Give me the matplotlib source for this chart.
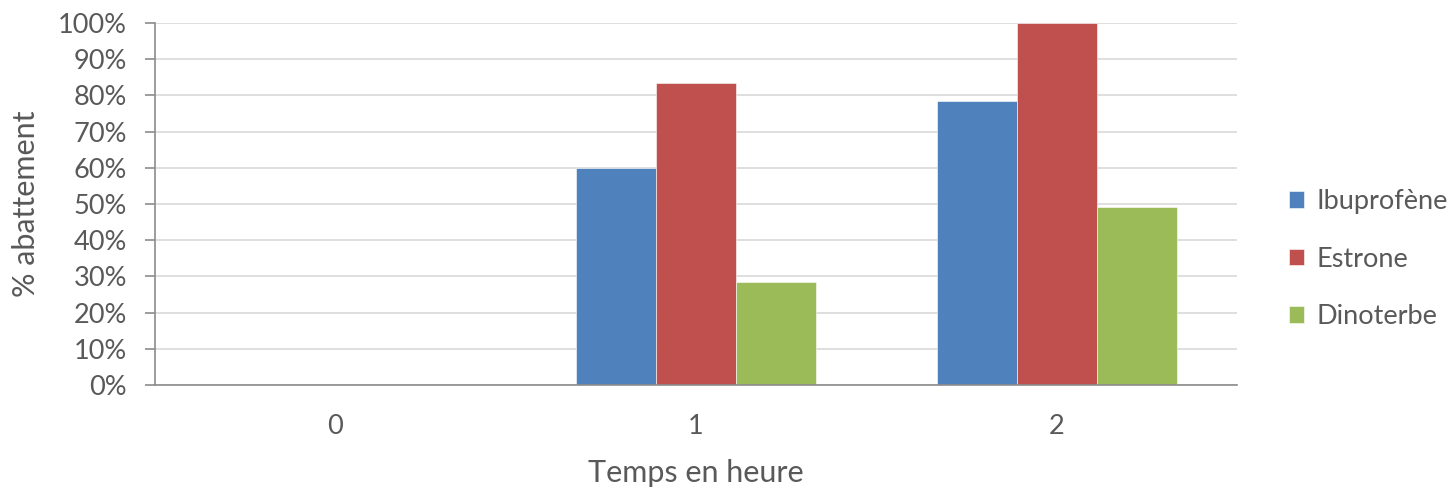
import numpy as np
import matplotlib.pyplot as plt
from matplotlib.ticker import PercentFormatter

# percent removal per compound after each hour
hours = ['0', '1', '2']
ibuprofene = [0, 60, 78.5]
estrone = [0, 83.5, 100]
dinoterbe = [0, 28.5, 49.3]

series = [('Ibuprofène', ibuprofene, '#4f81bd'),
          ('Estrone', estrone, '#c0504d'),
          ('Dinoterbe', dinoterbe, '#9bbb59')]

plt.rcParams['font.family'] = ['Lato', 'DejaVu Sans']
grey = '#595959'

fig = plt.figure(figsize=(14.51, 4.91), dpi=100)
ax = fig.add_axes([0.1068, 0.2159, 0.7457, 0.7373])

x = np.arange(len(hours))
w = 0.222
for i, (name, vals, col) in enumerate(series):
    ax.bar(x + (i - 1) * w, vals, w, color=col, label=name,
           edgecolor='white', linewidth=0.4, zorder=2)

ax.set_xlim(-0.5, 2.5)
ax.set_ylim(0, 100)
ax.set_yticks(np.arange(0, 101, 10))
ax.yaxis.set_major_formatter(PercentFormatter(decimals=0))
ax.set_xticks(x)
ax.set_xticklabels(hours)
ax.grid(axis='y', color='#d9d9d9', linewidth=1.2, zorder=0)

for s in ['top', 'right']:
    ax.spines[s].set_visible(False)
ax.spines['left'].set_color('#8c8c8c')
ax.spines['bottom'].set_color('#8c8c8c')
ax.spines['left'].set_linewidth(1.2)
ax.spines['bottom'].set_linewidth(1.2)
ax.tick_params(axis='y', colors='#8c8c8c', labelcolor=grey, labelsize=19.5,
               length=7, width=1.2, pad=13)
ax.tick_params(axis='x', length=0, labelcolor=grey, labelsize=19.5, pad=21)

ax.set_ylabel('% abattement', fontsize=22, color=grey, labelpad=13)
ax.set_xlabel('Temps en heure', fontsize=22, color=grey, labelpad=14)

ax.legend(loc='center left', bbox_to_anchor=(0.8885, 0.4725),
          bbox_transform=fig.transFigure, borderaxespad=0, borderpad=0,
          frameon=False, fontsize=19.5, labelcolor=grey, handlelength=0.55,
          handleheight=0.55, handletextpad=0.45, labelspacing=1.2)

fig.savefig('out.png', dpi=100)
